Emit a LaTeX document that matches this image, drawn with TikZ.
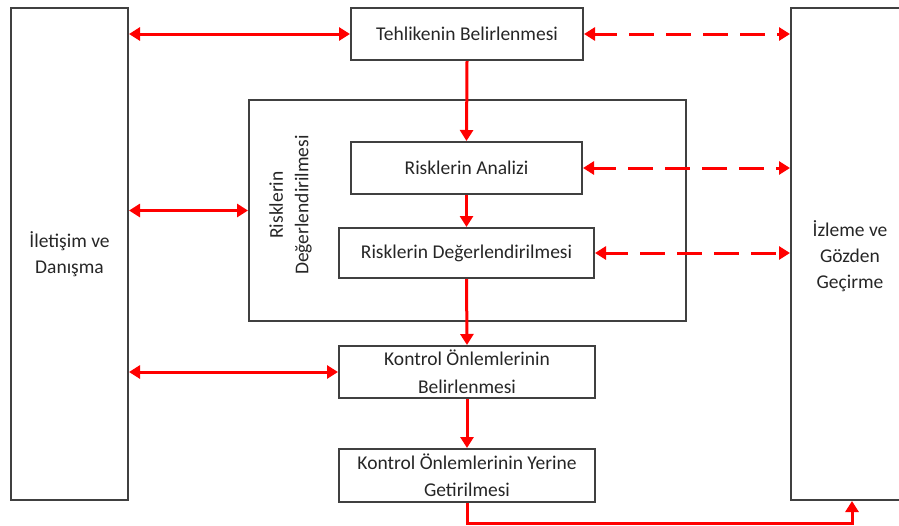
\documentclass[tikz,border=0pt]{standalone}
\usepackage{fontspec}
\setmainfont{Carlito}
\usetikzlibrary{arrows.meta}
\definecolor{boxgray}{HTML}{404040}
\definecolor{textgray}{HTML}{262626}
\begin{document}
\begin{tikzpicture}[x=1pt,y=-1pt,
 box/.style={draw=boxgray,line width=2pt,rectangle,inner sep=0pt,align=center,
   font=\fontsize{19.5}{26}\selectfont,text=textgray},
 lbl/.style={inner sep=0pt,align=center,font=\fontsize{19.5}{25.5}\selectfont,text=textgray},
 arr/.style={draw=red,line width=3pt,-{Triangle[length=11pt,width=13pt]}},
 darr/.style={arr,{Triangle[length=11pt,width=13pt]}-{Triangle[length=11pt,width=13pt]}},
 dsh/.style={darr,dash pattern=on 25pt off 12pt,dash phase=2pt}]
\useasboundingbox (0,0) rectangle (899,525);
\clip (0,0) rectangle (899,525);
% boxes
\node[box,minimum width=117pt,minimum height=492pt] (left) at (69.5,254) {İletişim ve\\Danışma};
\node[box,minimum width=122pt,minimum height=492pt] (right) at (852,254) {};
\node[lbl,font=\fontsize{19.5}{26}\selectfont] (rtext) at (850,256) {İzleme ve\\Gözden\\Geçirme};
\node[box,minimum width=232pt,minimum height=52pt] (teh) at (467,34) {Tehlikenin Belirlenmesi};
\node[box,minimum width=437pt,minimum height=221pt] (big) at (467.5,210.5) {};
\node[lbl,rotate=90] (btext) at (290.5,205) {Risklerin\\Değerlendirilmesi};
\node[box,minimum width=231pt,minimum height=52pt] (an) at (466.5,168) {Risklerin Analizi};
\node[box,minimum width=255pt,minimum height=50pt] (deg) at (466.5,253) {Risklerin Değerlendirilmesi};
\node[box,minimum width=256pt,minimum height=52pt,font=\fontsize{19.5}{28}\selectfont] (kb) at (467,372) {Kontrol Önlemlerinin\\Belirlenmesi};
\node[box,minimum width=256pt,minimum height=53pt,font=\fontsize{19.5}{27}\selectfont] (ky) at (467,475.5) {Kontrol Önlemlerinin Yerine\\Getirilmesi};
% vertical flow
\draw[arr] (teh.south) -- (an.north);
\draw[arr] (an.south) -- (deg.north);
\draw[arr] (deg.south) -- (kb.north);
\draw[arr] (kb.south) -- (ky.north);
\draw[arr] (ky.south) -- ([yshift=-20pt]ky.south) -| (right.south);
% left links
\draw[darr] (teh.west -| left.east) -- (teh.west);
\draw[darr] (big.west -| left.east) -- (big.west);
\draw[darr] (kb.west -| left.east) -- (kb.west);
% right dashed links
\draw[dsh] (teh.east) -- (teh.east -| right.west);
\draw[dsh] (an.east) -- (an.east -| right.west);
\draw[dsh] (deg.east) -- (deg.east -| right.west);
\end{tikzpicture}
\end{document}
